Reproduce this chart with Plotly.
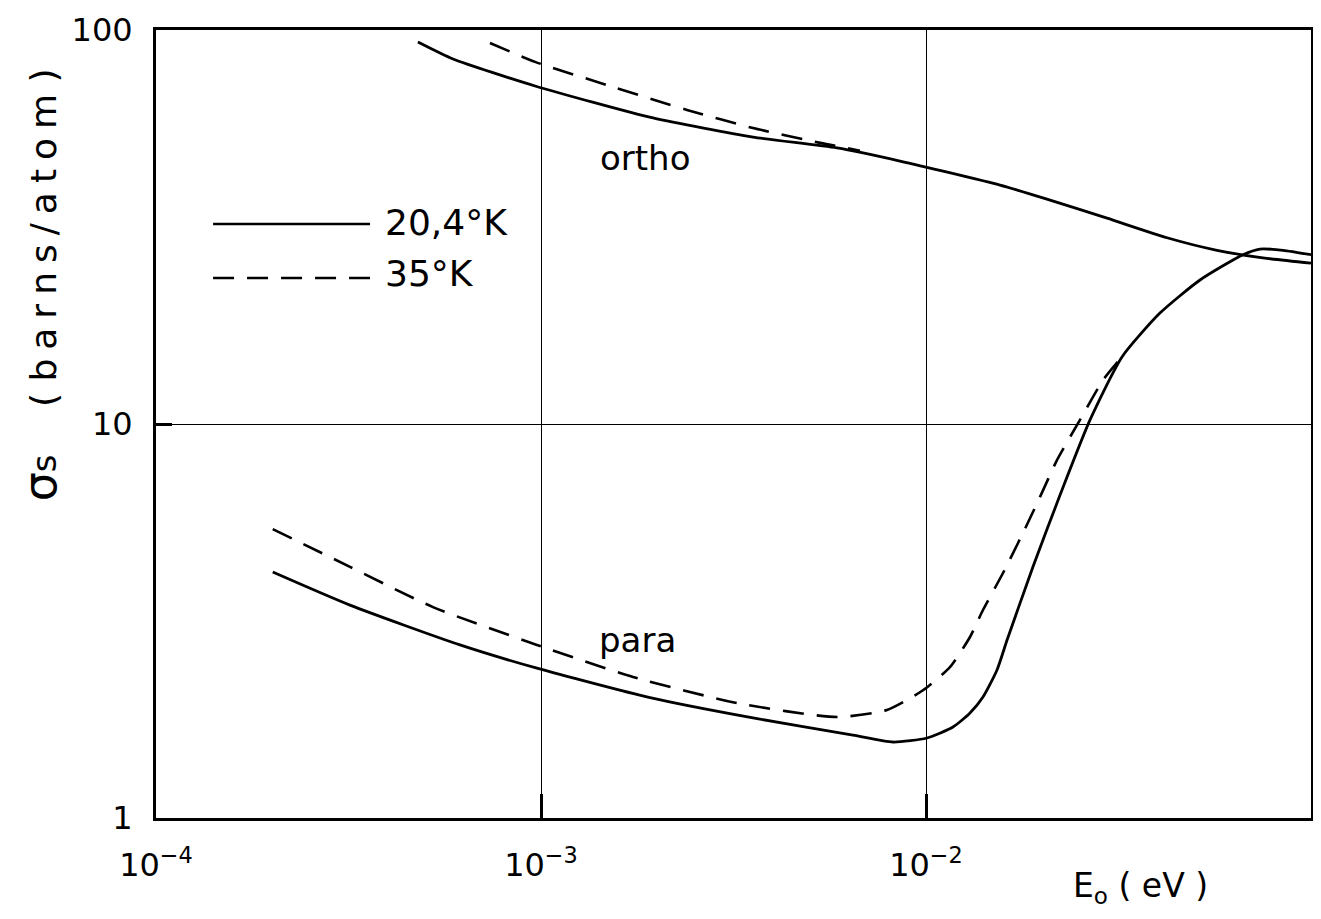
import plotly.graph_objects as go

# ortho, 20.4 K (solid)
ortho_204_E = [4.79e-4, 5.91e-4, 9.65e-4, 1.954e-3, 3.553e-3, 5.873e-3, 8.56e-3, 0.01557, 0.0210, 0.02953, 0.04227, 0.0570, 0.0750, 0.1]
ortho_204_s = [93.2, 84.4, 72.1, 59.8, 53.5, 50.2, 46.5, 40.4, 37.0, 33.3, 29.7, 27.6, 26.4, 25.6]

# ortho, 35 K (dashed)
ortho_35_E = [7.37e-4, 9.65e-4, 1.484e-3, 2.394e-3, 3.553e-3, 5.31e-3, 6.74e-3]
ortho_35_s = [92.7, 83.0, 72.5, 62.7, 56.4, 51.7, 49.4]

# para, 20.4 K (solid)
para_204_E = [2.01e-4, 3.19e-4, 6.16e-4, 9.76e-4, 1.919e-3, 3.553e-3, 6.46e-3, 8.21e-3, 0.01006, 0.01175,
              0.01301, 0.01406, 0.01529, 0.01624, 0.01755, 0.01896, 0.02229, 0.02667, 0.03229, 0.04052,
              0.0515, 0.0666, 0.0737, 0.0846, 0.1]
para_204_s = [4.21, 3.47, 2.75, 2.40, 2.02, 1.794, 1.624, 1.559, 1.596, 1.702,
              1.847, 2.028, 2.375, 2.83, 3.51, 4.34, 6.60, 10.24, 14.80, 19.12,
              23.2, 26.9, 27.8, 27.6, 26.9]

# para, 35 K (dashed)
para_35_E = [2.01e-4, 3.19e-4, 5.24e-4, 9.76e-4, 1.734e-3, 3.229e-3, 5.873e-3, 7.92e-3, 9.82e-3, 0.01154,
             0.01301, 0.01406, 0.01585, 0.01786, 0.01978, 0.02189, 0.02512, 0.02883, 0.03229]
para_35_s = [5.41, 4.34, 3.43, 2.75, 2.28, 1.958, 1.804, 1.880, 2.11, 2.416,
             2.880, 3.372, 4.186, 5.29, 6.53, 8.10, 10.24, 12.93, 14.80]

x_tickvals = [1e-4, 1e-3, 1e-2, 1e-1]
x_ticktext = ["10<sup>−4</sup>", "10<sup>−3</sup>", "10<sup>−2</sup>", "10<sup>−1</sup>"]
y_tickvals = [1, 10, 100]
y_ticktext = ["1", "10", "100"]

FONT = "DejaVu Sans"
solid = dict(color="black", width=2.8)
dashed = dict(color="black", width=2.6, dash="21px,13px")

fig = go.Figure()
for xs, ys, st in [(ortho_204_E, ortho_204_s, solid), (ortho_35_E, ortho_35_s, dashed),
                   (para_204_E, para_204_s, solid), (para_35_E, para_35_s, dashed)]:
    fig.add_trace(go.Scatter(x=xs, y=ys, mode="lines", line=dict(shape="spline", smoothing=0.6, **st),
                             showlegend=False, hoverinfo="skip"))

axis_common = dict(type="log", showline=True, linecolor="black", linewidth=3, mirror=True,
                   showgrid=True, gridcolor="black", gridwidth=1.2, zeroline=False,
                   ticks="inside", tickwidth=3, tickcolor="black", automargin=False,
                   tickfont=dict(family=FONT, size=32, color="black"))

fig.update_xaxes(range=[-4, -1], tickvals=x_tickvals, ticktext=x_ticktext, ticklen=24,
                 ticklabelstandoff=17, **axis_common)
fig.update_yaxes(range=[0, 2], tickvals=y_tickvals, ticktext=y_ticktext, ticklen=16,
                 ticklabelstandoff=14, **axis_common)

# legend samples
fig.add_shape(type="line", xref="paper", yref="paper", x0=0.0494, x1=0.1853, y0=0.7538, y1=0.7538,
              line=dict(color="black", width=2.6))
fig.add_shape(type="line", xref="paper", yref="paper", x0=0.0494, x1=0.1853, y0=0.6853, y1=0.6853,
              line=dict(color="black", width=2.6, dash="21px,13px"))

sp = "\u2005"
ytitle = ("<span style='font-size:46px'>σ</span><span style='font-size:34px'>s</span>\u2003 ("
          + " " + sp.join("barns/atom") + " )")
annotations = [
    dict(text="20,4°K", x=0.1965, y=0.7563, xanchor="left", yanchor="middle", size=36),
    dict(text="35°K", x=0.1965, y=0.6904, xanchor="left", yanchor="middle", size=36),
    dict(text="ortho", x=0.4234, y=0.8376, xanchor="center", yanchor="middle", size=34),
    dict(text="para", x=0.4173, y=0.2259, xanchor="center", yanchor="middle", size=34),
    dict(text=ytitle, x=-0.1004, y=0.676, xanchor="center", yanchor="middle", textangle=-90, size=36),
    dict(text="E<sub>o</sub> ( eV )", x=0.852, y=-0.0888, xanchor="center", yanchor="middle", size=33),
]
for a in annotations:
    size = a.pop("size")
    fig.add_annotation(xref="paper", yref="paper", showarrow=False,
                       font=dict(family=FONT, size=size, color="black"), **a)

# page body has an 8px margin, so shift the plot area up/left by 8px
fig.update_layout(width=1321, height=919, margin=dict(l=148, r=18, t=22, b=109),
                  plot_bgcolor="white", paper_bgcolor="white",
                  font=dict(family=FONT, color="black"))

fig.write_html("out.html")
